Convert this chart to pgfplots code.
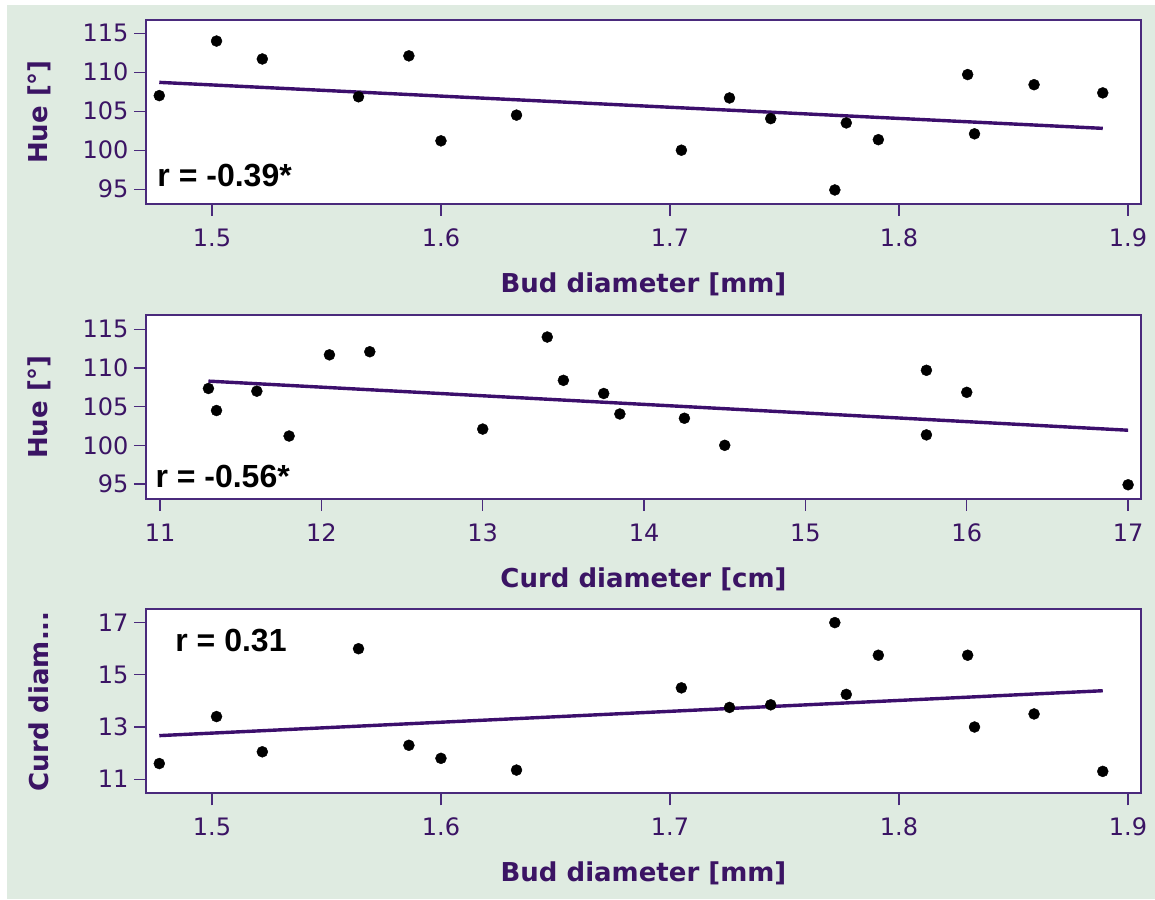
\documentclass[border=0pt]{standalone}
\usepackage{pgfplots}
\usepackage{pgfplotstable}
\pgfplotsset{compat=1.18}
\usepackage{fontspec}
\setmainfont{DejaVu Sans}
\newfontfamily\rfont{Liberation Sans}

\definecolor{bgcol}{HTML}{DFEBE1}
\definecolor{purp}{HTML}{3B1464}
\definecolor{framecol}{HTML}{4A2A7C}
\definecolor{fitcol}{HTML}{3C0F6C}

% bud diameter [mm], curd diameter [cm], hue [deg] per sample
\pgfplotstableread{
bud    curd   hue
1.477  11.60  107.0
1.502  13.40  114.0
1.522  12.05  111.7
1.564  16.00  106.85
1.586  12.30  112.1
1.600  11.80  101.2
1.633  11.35  104.5
1.705  14.50  100.0
1.726  13.75  106.7
1.744  13.85  104.05
1.772  17.00  94.9
1.777  14.25  103.5
1.791  15.75  101.35
1.830  15.75  109.7
1.833  13.00  102.1
1.859  13.50  108.4
1.889  11.30  107.35
}\samples

\pgfplotsset{
  panel/.style={
    scale only axis, width=995pt, height=184pt, anchor=south west,
    axis background/.style={fill=white},
    axis line style={draw=framecol, line width=1.8pt},
    tick align=outside, major tick length=12pt,
    tick style={draw=framecol, line width=1.3pt},
    xtick pos=bottom, ytick pos=left,
    /pgf/number format/assume math mode=true,
    ticklabel style={font=\fontsize{24}{28}\selectfont, text=purp},
    xticklabel style={yshift=-9pt},
    yticklabel style={xshift=-2pt},
    label style={font=\bfseries\fontsize{26}{31}\selectfont, text=purp},
    xlabel style={at={(axis description cs:0.5,-0.435)}, anchor=center},
    ylabel style={at={(axis description cs:-0.1075,0.5)}, anchor=center},
  },
  pts/.style={only marks, mark=*, mark size=5.5pt, black},
  fit/.style={no marks, line width=3.4pt, fitcol},
}
\tikzset{
  rlab/.style={anchor=base west, font=\rfont\bfseries\fontsize{32}{36}\selectfont, text=black},
}

\begin{document}
\begin{tikzpicture}
\path[use as bounding box] (0,0) rectangle (1155pt,899pt);
\fill[white] (0,0) rectangle (1155pt,899pt);
\fill[bgcol] (7pt,0) rectangle (1155pt,894pt);

% top: hue vs bud diameter
\begin{axis}[panel, at={(146pt,695pt)},
  xmin=1.4712, xmax=1.9057, ymin=93.1, ymax=116.7,
  xtick={1.5,1.6,1.7,1.8,1.9}, ytick={95,100,105,110,115},
  xlabel={Bud diameter [mm]}, ylabel={Hue [°]}]
  \addplot[pts] table[x=bud, y=hue] {\samples};
  \addplot[fit] coordinates {(1.477,108.7) (1.889,102.8)};
  \node[rlab] at (rel axis cs:0.008,0.093) {r = -0.39*};
\end{axis}

% middle: hue vs curd diameter
\begin{axis}[panel, at={(146pt,400pt)},
  xmin=10.913, xmax=17.08, ymin=93.06, ymax=116.85,
  xtick={11,12,...,17}, ytick={95,100,105,110,115},
  xlabel={Curd diameter [cm]}, ylabel={Hue [°]}]
  \addplot[pts] table[x=curd, y=hue] {\samples};
  \addplot[fit] coordinates {(11.3,108.3) (17.0,101.95)};
  \node[rlab] at (rel axis cs:0.006,0.064) {r = -0.56*};
\end{axis}

% bottom: curd diameter vs bud diameter
\begin{axis}[panel, at={(146pt,105.7pt)},
  xmin=1.4712, xmax=1.9057, ymin=10.46, ymax=17.51,
  xtick={1.5,1.6,1.7,1.8,1.9}, ytick={11,13,15,17},
  xlabel={Bud diameter [mm]}, ylabel={Curd diam...}]
  \addplot[pts] table[x=bud, y=curd] {\samples};
  \addplot[fit] coordinates {(1.477,12.67) (1.889,14.39)};
  \node[rlab] at (rel axis cs:0.026,0.773) {r = 0.31};
\end{axis}
\end{tikzpicture}
\end{document}
